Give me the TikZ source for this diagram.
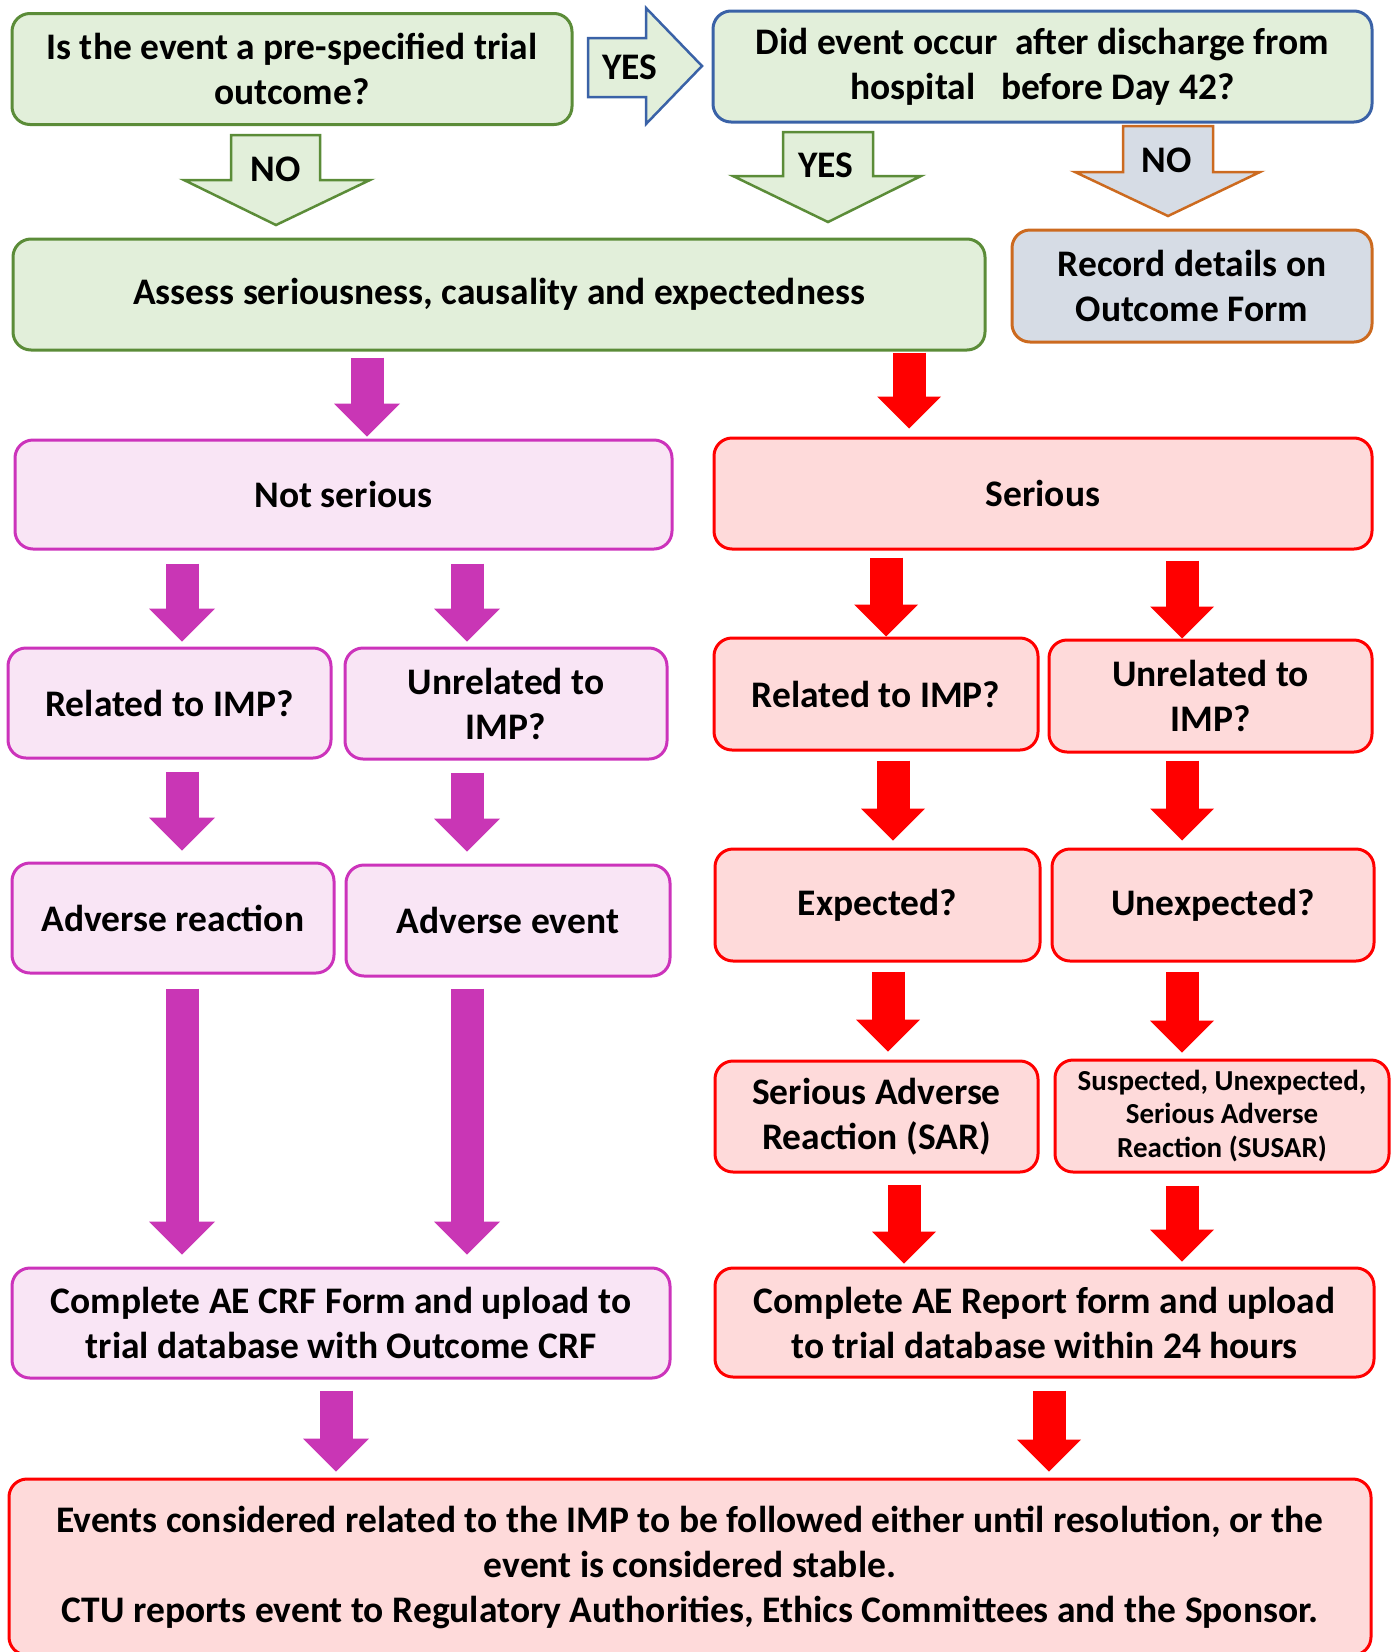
\documentclass[tikz,border=0pt]{standalone}
\usepackage{fontspec}
\setmainfont{Carlito}
\usepackage{tikz}
\usetikzlibrary{arrows.meta, positioning, calc}

\definecolor{grnfill}{HTML}{E2EFDA}
\definecolor{grnline}{HTML}{5B8C38}
\definecolor{bluline}{HTML}{3A62A7}
\definecolor{orgline}{HTML}{CC6A1F}
\definecolor{gryfill}{HTML}{D6DCE5}
\definecolor{magfill}{HTML}{F9E5F5}
\definecolor{magline}{HTML}{CC33BB}
\definecolor{magarrow}{HTML}{C936B5}
\definecolor{redfill}{HTML}{FEDADA}
\definecolor{redline}{HTML}{FF0000}

\tikzset{
	box/.style={draw, line width=3pt, rounded corners=18pt, align=center, inner sep=0pt,
		font=\fontsize{37.5}{45}\selectfont\bfseries},
	grnbox/.style={box, draw=grnline, fill=grnfill},
	magbox/.style={box, draw=magline, fill=magfill},
	redbox/.style={box, draw=redline, fill=redfill},
	hollow/.style={line width=2.5pt, line join=miter},
	lbl/.style={inner sep=0pt, font=\fontsize{37.5}{45}\selectfont\bfseries},
	magarr/.style={draw=magarrow, line width=33pt, -{Triangle[width=66pt, length=33pt, line width=0pt]}},
	redarr/.style={draw=redline, line width=33pt, -{Triangle[width=64pt, length=32pt, line width=0pt]}}
}

\begin{document}
\begin{tikzpicture}[x=1pt, y=-1pt]
			\useasboundingbox (0,0) rectangle (1394,1652);
			
			% top question boxes
			\node [grnbox, minimum width=560pt, minimum height=111pt] (outq) at (292,69) {Is the event a pre-specified trial\\outcome?};
			\node [grnbox, draw=bluline, minimum width=659pt, minimum height=111pt] (dischq) at (1042.5,66.5) {Did event occur\ \ after discharge from\\hospital\ \ \ before Day 42?};
			\node [grnbox, minimum width=972pt, minimum height=111pt] (assess) at (499,294.5) {Assess seriousness, causality and expectedness};
			\node [box, draw=orgline, fill=gryfill, minimum width=360pt, minimum height=112pt] (record) at (1192,286) {Record details on\\Outcome Form};
			
			% hollow arrows with yes/no
			\draw [hollow, draw=bluline, fill=grnfill] (588,38) -- (646,38) -- (646,8) -- (702,66) -- (646,124) -- (646,97) -- (588,97) -- cycle;
			\node [lbl] (yes1) at (630,67) {YES};
			\draw [hollow, draw=grnline, fill=grnfill] (231,135) -- ++(89,0) -- ++(0,45) -- ++(50,0) -- (276,225) -- (184,180) -- ++(47,0) -- cycle;
			\node [lbl] (no1) at (276,169) {NO};
			\draw [hollow, draw=grnline, fill=grnfill] (783,132) -- ++(90,0) -- ++(0,44) -- ++(48,0) -- (828,222) -- (733,176) -- ++(50,0) -- cycle;
			\node [lbl] (yes2) at (826,165) {YES};
			\draw [hollow, draw=orgline, fill=gryfill] (1123,126) -- ++(90,0) -- ++(0,46) -- ++(47,0) -- (1168,216) -- (1075,172) -- ++(48,0) -- cycle;
			\node [lbl] (no2) at (1167,160) {NO};
			
			% not serious side
			\node [magbox, minimum width=657pt, minimum height=109pt] (notser) at (343.5,494.5) {Not serious};
			\node [magbox, minimum width=323pt, minimum height=110pt] (relA) at (169.5,703) {Related to IMP?};
			\node [magbox, minimum width=322pt, minimum height=111pt] (unrelA) at (506,703.5) {Unrelated to\\IMP?};
			\node [magbox, minimum width=322pt, minimum height=110pt] (advR) at (173,918) {Adverse reaction};
			\node [magbox, minimum width=324pt, minimum height=111pt] (advE) at (508,920.5) {Adverse event};
			\node [magbox, minimum width=658pt, minimum height=110pt] (crf) at (341,1323) {Complete AE CRF Form and upload to\\trial database with Outcome CRF};
			
			% serious side
			\node [redbox, minimum width=658pt, minimum height=111pt] (ser) at (1043,493.5) {Serious};
			\node [redbox, minimum width=324pt, minimum height=112pt] (relB) at (876,694) {Related to IMP?};
			\node [redbox, minimum width=323pt, minimum height=112pt] (unrelB) at (1210.5,696) {Unrelated to\\IMP?};
			\node [redbox, minimum width=325pt, minimum height=112pt] (expd) at (877.5,905) {Expected?};
			\node [redbox, minimum width=322pt, minimum height=112pt] (unexpd) at (1213,905) {Unexpected?};
			\node [redbox, minimum width=323pt, minimum height=111pt] (sar) at (876.5,1116.5) {Serious Adverse\\Reaction (SAR)};
			\node [redbox, minimum width=334pt, minimum height=112pt, font=\fontsize{29}{33.5}\selectfont\bfseries] (susar) at (1222,1116) {Suspected, Unexpected,\\Serious Adverse\\Reaction (SUSAR)};
			\node [redbox, minimum width=659pt, minimum height=109pt] (rep) at (1044.5,1322.5) {Complete AE Report form and upload\\to trial database within 24 hours};
			
			\node [redbox, minimum width=1362pt, minimum height=176pt] (final) at (690,1567) {Events considered related to the IMP to be followed either until resolution, or the\\event is considered stable.\\CTU reports event to Regulatory Authorities, Ethics Committees and the Sponsor.};
			
			% solid arrows
			\draw [magarr, shorten <=6pt, shorten >=2pt] (367,0 |- assess.south) -- (367,0 |- notser.north);
			\draw [magarr, shorten <=13pt, shorten >=5pt] (182,0 |- notser.south) -- (182,0 |- relA.north);
			\draw [magarr, shorten <=13pt, shorten >=5pt] (467,0 |- notser.south) -- (467,0 |- unrelA.north);
			\draw [magarr, shorten <=12pt, shorten >=11pt] (182,0 |- relA.south) -- (182,0 |- advR.north);
			\draw [magarr, shorten <=12pt, shorten >=12pt] (467,0 |- unrelA.south) -- (467,0 |- advE.north);
			\draw [magarr, shorten <=14pt, shorten >=12pt] (182,0 |- advR.south) -- (182,0 |- crf.north);
			\draw [magarr, shorten <=11pt, shorten >=12pt] (467,0 |- advE.south) -- (467,0 |- crf.north);
			\draw [magarr, shorten <=11pt, shorten >=6pt] (336,0 |- crf.south) -- (336,0 |- final.north);
			
			\draw [redarr, shorten <=1pt, shorten >=8pt] (909,0 |- assess.south) -- (909,0 |- ser.north);
			\draw [redarr, shorten <=7pt, shorten >=0pt] (886,0 |- ser.south) -- (886,0 |- relB.north);
			\draw [redarr, shorten <=10pt, shorten >=0pt] (1182,0 |- ser.south) -- (1182,0 |- unrelB.north);
			\draw [redarr, shorten <=9pt, shorten >=7pt] (893,0 |- relB.south) -- (893,0 |- expd.north);
			\draw [redarr, shorten <=7pt, shorten >=7pt] (1182,0 |- unrelB.south) -- (1182,0 |- unexpd.north);
			\draw [redarr, shorten <=9pt, shorten >=8pt] (888,0 |- expd.south) -- (888,0 |- sar.north);
			\draw [redarr, shorten <=9pt, shorten >=6pt] (1182,0 |- unexpd.south) -- (1182,0 |- susar.north);
			\draw [redarr, shorten <=11pt, shorten >=3pt] (904,0 |- sar.south) -- (904,0 |- rep.north);
			\draw [redarr, shorten <=12pt, shorten >=5pt] (1182,0 |- susar.south) -- (1182,0 |- rep.north);
			\draw [redarr, shorten <=12pt, shorten >=6pt] (1049,0 |- rep.south) -- (1049,0 |- final.north);
\end{tikzpicture}
\end{document}
